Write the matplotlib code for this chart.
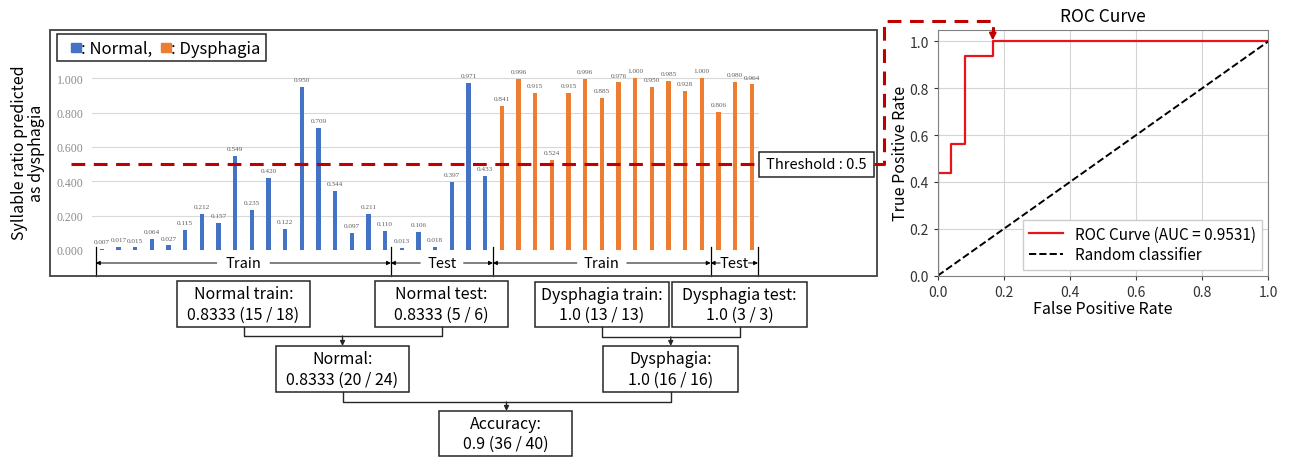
import numpy as np
import matplotlib
matplotlib.use("Agg")
import matplotlib.pyplot as plt
from matplotlib.patches import Rectangle

plt.rcParams['font.family'] = ['Noto Sans CJK KR', 'DejaVu Sans']

# values
normal_train = [0.007, 0.017, 0.015, 0.064, 0.027, 0.115, 0.212, 0.157, 0.549,
                0.235, 0.420, 0.122, 0.950, 0.709, 0.344, 0.097, 0.211, 0.110]
normal_test = [0.013, 0.106, 0.018, 0.397, 0.971, 0.433]
dys_train = [0.841, 0.996, 0.915, 0.524, 0.915, 0.996, 0.885, 0.976, 1.000,
             0.950, 0.985, 0.928, 1.000]
dys_test = [0.806, 0.980, 0.964]
threshold = 0.5

# split markers under the bars (in bar index units)
seg_labels = ["Train", "Test", "Train", "Test"]
seg_edges = [-0.35, 17.35, 23.47, 36.53, 39.37]
seg_gaps = [1.6, 1.3, 1.5, 0.85]   # half-width of the gap left for the label

# ROC curve
roc_fpr = [0, 0, 1/24, 1/24, 2/24, 2/24, 4/24, 4/24, 1]
roc_tpr = [0, 7/16, 7/16, 9/16, 9/16, 15/16, 15/16, 1, 1]
auc = 0.9531

# accuracy summary boxes
box_texts = {
    'ntrain': "Normal train:\n0.8333 (15 / 18)",
    'ntest': "Normal test:\n0.8333 (5 / 6)",
    'dtrain': "Dysphagia train:\n1.0 (13 / 13)",
    'dtest': "Dysphagia test:\n1.0 (3 / 3)",
    'normal': "Normal:\n0.8333 (20 / 24)",
    'dys': "Dysphagia:\n1.0 (16 / 16)",
    'acc': "Accuracy:\n0.9 (36 / 40)",
}

BLUE = '#4472C4'
ORANGE = '#ED7D31'
DARKRED = '#C00000'
W, H = 1291, 460


def px_axes(fig, x0, x1, y0, y1):
    # axes from pixel box (top-down y)
    return fig.add_axes([x0 / W, 1 - y1 / H, (x1 - x0) / W, (y1 - y0) / H])


fig = plt.figure(figsize=(W / 100, H / 100), dpi=100)

# ---------- bar chart ----------
values = normal_train + normal_test + dys_train + dys_test
n_norm = len(normal_train) + len(normal_test)
colors = [BLUE] * n_norm + [ORANGE] * (len(dys_train) + len(dys_test))
x = np.arange(len(values))

ax = px_axes(fig, 91.7, 758.5, 69, 251)
ax.set_xlim(-0.6, 39.4)
ax.set_ylim(0, 1.06)
ax.set_yticks(np.arange(0, 1.01, 0.2))
ax.set_yticklabels(['%.3f' % v for v in np.arange(0, 1.01, 0.2)],
                   family='Liberation Serif', fontsize=8.5, color='#8c8c8c')
ax.tick_params(axis='y', length=0, pad=6)
ax.set_xticks([])
for s in ax.spines.values():
    s.set_visible(False)
ax.grid(axis='y', color='#d9d9d9', lw=0.8)
ax.set_axisbelow(True)
ax.bar(x, values, width=0.26, color=colors, zorder=3)
for xi, v in zip(x, values):
    ax.annotate('%.3f' % v, (xi, v), xytext=(0, 3.5), textcoords='offset points',
                ha='center', va='bottom', fontsize=5.2, color='#5f5f5f',
                family='Liberation Serif')

# Train / Test spans
y_arr = -0.0757
for e in seg_edges:
    ax.plot([e, e], [0.015, -0.151], color='black', lw=0.9, clip_on=False)
for i, lab in enumerate(seg_labels):
    a, b = seg_edges[i], seg_edges[i + 1]
    c, g = (a + b) / 2, seg_gaps[i]
    for end, start in ((a, c - g), (b, c + g)):
        ax.annotate('', xy=(end, y_arr), xytext=(start, y_arr),
                    arrowprops=dict(arrowstyle='-|>', color='black', lw=0.7,
                                    shrinkA=0, shrinkB=0, mutation_scale=6),
                    annotation_clip=False)
    ax.text(c, y_arr, lab, ha='center', va='center', fontsize=10.5, clip_on=False)

fig.text(28 / W, 1 - 153 / H, "Syllable ratio predicted\nas dysphagia", rotation=90,
         ha='center', va='center', fontsize=11.5, linespacing=1.0)

# ---------- ROC ----------
rx = px_axes(fig, 937.7, 1268.3, 30.7, 276.7)
rx.plot(roc_fpr, roc_tpr, color='#E8141B', lw=1.6, label='ROC Curve (AUC = %.4f)' % auc)
rx.plot([0, 1], [0, 1], color='black', ls='--', lw=1.4, label='Random classifier')
rx.set_xlim(0, 1)
rx.set_ylim(0, 1.05)
rx.set_xticks(np.arange(0, 1.01, 0.2))
rx.set_yticks(np.arange(0, 1.01, 0.2))
rx.tick_params(labelsize=10, colors='#333333', length=3)
rx.grid(color='#d4d4d4', lw=0.8)
for s in rx.spines.values():
    s.set_color('#808080')
rx.set_title('ROC Curve', fontsize=12.5, pad=6)
rx.set_xlabel('False Positive Rate', fontsize=11.5, labelpad=1)
rx.set_ylabel('True Positive Rate', fontsize=11.5, labelpad=0)
rx.legend(loc='lower right', fontsize=11, fancybox=False, edgecolor='#cccccc',
          framealpha=1, handlelength=2.2, borderaxespad=0.4, labelspacing=0.25)

# ---------- overlay for boxes and connectors ----------
ov = fig.add_axes([0, 0, 1, 1], zorder=10)
ov.set_xlim(0, W)
ov.set_ylim(H, 0)
ov.axis('off')


def rect(x0, x1, y0, y1, lw=1.1, ec='#262626'):
    ov.add_patch(Rectangle((x0, y0), x1 - x0, y1 - y0, fc='white', ec=ec, lw=lw))


def boxed(key, x0, x1, y0, y1):
    rect(x0, x1, y0, y1)
    ov.text((x0 + x1) / 2, (y0 + y1) / 2, box_texts[key], ha='center', va='center',
            fontsize=11.5, linespacing=1.25)


def bracket(xa, xb, ytop, ymid, ybot):
    ov.plot([xa, xa, xb, xb], [ytop, ymid, ymid, ytop], color='#262626', lw=1)
    xm = (xa + xb) / 2
    ov.annotate('', xy=(xm, ybot), xytext=(xm, ymid),
                arrowprops=dict(arrowstyle='-|>', color='#262626', lw=1,
                                shrinkA=0, shrinkB=0, mutation_scale=7))


# outer frame of the bar chart
ov.add_patch(Rectangle((50, 31), 827, 246, fc='none', ec='#404040', lw=1.3, zorder=0))

# legend
rect(57, 266, 35, 62)
ov.add_patch(Rectangle((71, 43.5), 9.5, 9.5, color=BLUE))
ov.text(81, 49, ': Normal,', va='center', fontsize=12)
ov.add_patch(Rectangle((161, 43.5), 9.5, 9.5, color=ORANGE))
ov.text(171, 49, ': Dysphagia', va='center', fontsize=12)

# threshold line to ROC operating point
y_thr = H - ax.transData.transform((0, threshold))[1]
xr, yr = rx.transData.transform((roc_fpr[6], 1.0))
yr = H - yr
ov.plot([71, 759], [y_thr, y_thr], color=DARKRED, lw=2.2, ls=(0, (4.5, 2.8)))
ov.plot([874, 884, 884, xr, xr], [y_thr, y_thr, 22, 22, yr - 9], color=DARKRED,
        lw=2.2, ls=(0, (4.5, 2.8)))
ov.annotate('', xy=(xr, yr - 1), xytext=(xr, yr - 9),
            arrowprops=dict(arrowstyle='-|>', color=DARKRED, lw=1.5,
                            shrinkA=0, shrinkB=0, mutation_scale=10))
rect(759, 874, 153, 178)
ov.text(816.5, 165.5, 'Threshold : 0.5', ha='center', va='center', fontsize=10.5)

# summary boxes
boxed('ntrain', 177, 310, 282, 328)
boxed('ntest', 375, 508, 282, 328)
boxed('dtrain', 535, 669, 283, 328)
boxed('dtest', 672, 807, 283, 328)
boxed('normal', 276, 409, 347, 393)
boxed('dys', 603, 738, 347, 393)
boxed('acc', 439, 572, 412, 457)
bracket(243.5, 441.5, 328, 337, 347)
bracket(602, 739.5, 328, 338, 347)
bracket(342.5, 670.5, 393, 403, 412)

fig.savefig('out.png', dpi=100)
